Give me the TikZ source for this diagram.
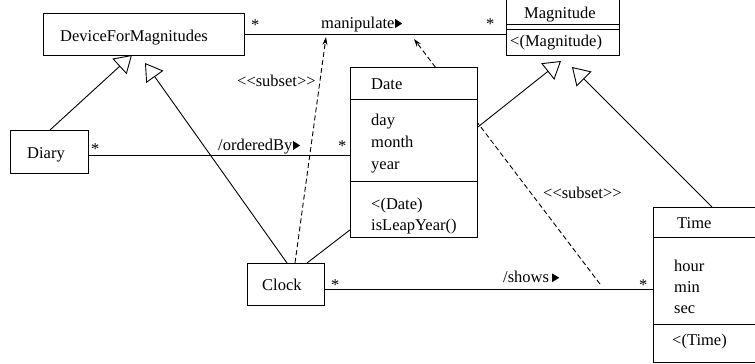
\documentclass[tikz,border=0pt]{standalone}
\usepackage{fontspec}
\setmainfont{Liberation Serif}
\usetikzlibrary{arrows.meta}
\tikzset{
  box/.style={draw, line width=0.9pt, fill=white, inner sep=0pt, anchor=north west},
  openbox/.style={inner sep=0pt, anchor=north west},
  lbl/.style={font=\fontsize{16.5}{20}\selectfont, inner sep=0pt, anchor=base west},
  assoc/.style={line width=0.9pt},
  gen/.style={line width=0.9pt, -{Triangle[open, length=17pt, width=21pt, line width=0.9pt]}},
  subsetline/.style={line width=0.9pt, dash pattern=on 5pt off 3pt, -{Stealth[length=8pt, width=5pt]}},
  divider/.style={line width=0.9pt}
}
\begin{document}
\begin{tikzpicture}[x=1pt, y=-1pt]
\useasboundingbox (0,0) rectangle (755,364);
\fill[white] (-10,-10) rectangle (780,380);

% free ends of the subset dependencies
\coordinate (sub2start) at (600,284);
\coordinate (sub2end) at (414,39);
\coordinate (sub1end) at (326,37);
\draw[subsetline] (sub2start) -- (sub2end);

% boxes
\node[box, minimum width=201pt, minimum height=42pt] (dfm) at (43,13) {};
\node[box, minimum width=78pt, minimum height=43pt] (diary) at (10,130) {};
\node[openbox, minimum width=113pt, minimum height=57pt] (mag) at (506,-2) {};
\draw[line width=0.9pt] (mag.north west) -- (mag.south west) -- (mag.south east) -- (mag.north east);
\node[box, minimum width=127pt, minimum height=170pt] (date) at (350,67) {};
\node[box, minimum width=77pt, minimum height=42pt] (clock) at (247,263) {};
\node[openbox, minimum width=140pt, minimum height=155pt] (time) at (653,207) {};
\draw[line width=0.9pt] (time.north east) -- (time.north west) -- (time.south west) -- (time.south east);

% dividers
\draw[divider] (mag.west |- 0,24) -- (mag.east |- 0,24);
\draw[divider] (mag.west |- 0,29) -- (mag.east |- 0,29);
\draw[divider] (date.west |- 0,99) -- (date.east |- 0,99);
\draw[divider] (date.west |- 0,181) -- (date.east |- 0,181);
\draw[divider] (time.west |- 0,237) -- (time.east |- 0,237);
\draw[divider] (time.west |- 0,324) -- (time.east |- 0,324);

% texts
\node[lbl] (tdfm) at (60,41) {DeviceForMagnitudes};
\node[lbl] (tdiary) at (27,158) {Diary};
\node[lbl] (tmag) at (524,18) {Magnitude};
\node[lbl] (tmagop) at (510,46) {<(Magnitude)};
\node[lbl] (tdate) at (371,89) {Date};
\node[lbl] (tday) at (371,125) {day};
\node[lbl] (tmonth) at (371,147) {month};
\node[lbl] (tyear) at (371,169) {year};
\node[lbl] (tdateop) at (371,209) {<(Date)};
\node[lbl] (tleap) at (371,230) {isLeapYear()};
\node[lbl] (tclock) at (262,290) {Clock};
\node[lbl] (ttime) at (677,228) {Time};
\node[lbl] (thour) at (674,271) {hour};
\node[lbl] (tmin) at (674,292) {min};
\node[lbl] (tsec) at (674,313) {sec};
\node[lbl] (ttimeop) at (672,345) {<(Time)};

% associations
\draw[assoc] (dfm.east |- 0,34) -- (mag.west |- 0,34);
\draw[assoc] (diary.east |- 0,155) -- (date.west |- 0,155);
\draw[assoc] (clock.east |- 0,289) -- (time.west |- 0,289);
\draw[assoc] ([xshift=60pt]clock.north west) -- ([yshift=8pt]date.south west);

% generalizations
\coordinate (g1) at (132,55);
\coordinate (g2) at (145,63);
\coordinate (g3) at (561,61);
\coordinate (g4) at (572,67);
\draw[gen] ([xshift=40pt]diary.north west) -- (g1);
\draw[gen] ([xshift=40pt]clock.north west) -- (g2);
\draw[gen] (date.east |- 0,127) -- (g3);
\draw[gen] ([xshift=59pt]time.north west) -- (g4);

% subset dependency from Clock
\draw[subsetline] ([xshift=48pt]clock.north west) -- (sub1end);

% association labels
\node[lbl] (lman) at (321,28) {manipulate};
\fill (lman.base east) ++(0.5,0) -- ++(0,-9) -- ++(7,4.5) -- cycle;
\node[lbl] (lord) at (218,150) {/orderedBy};
\fill (lord.base east) ++(0.5,0) -- ++(0,-9) -- ++(7,4.5) -- cycle;
\node[lbl] (lshow) at (503,282) {/shows};
\fill (lshow.base east) ++(3,0) -- ++(0,-8.5) -- ++(7,4.25) -- cycle;
\node[lbl] (lsub1) at (237,86) {<\kern0pt<subset>\kern0pt>};
\node[lbl] (lsub2) at (543,198) {<\kern0pt<subset>\kern0pt>};

% multiplicities
\node[lbl] (m1) at (251,30) {*};
\node[lbl] (m2) at (486,29) {*};
\node[lbl] (m3) at (91,154) {*};
\node[lbl] (m4) at (338,151) {*};
\node[lbl] (m5) at (331,290) {*};
\node[lbl] (m6) at (639,290) {*};
\end{tikzpicture}
\end{document}
